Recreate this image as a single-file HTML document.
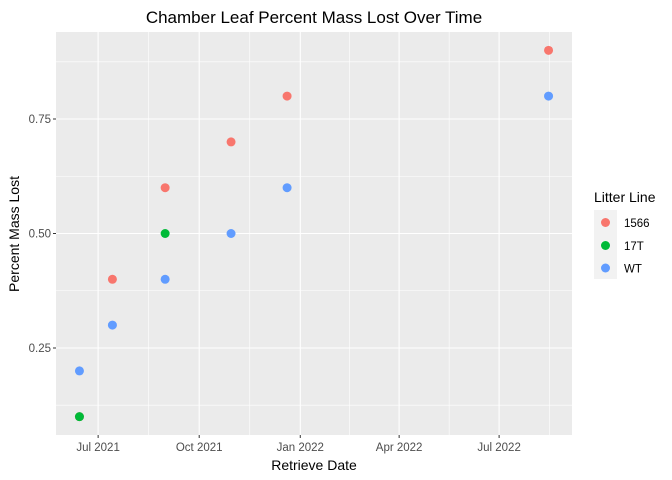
<!DOCTYPE html>
<html><head><meta charset="utf-8"><style>body{margin:0;background:#fff}svg{display:block;font-family:"Liberation Sans",Arial,sans-serif}</style></head>
<body>
<svg id="chart" width="672" height="480">
<text x="314" y="23" text-anchor="middle" font-size="17" fill="#000">Chamber Leaf Percent Mass Lost Over Time</text>
<rect x="56" y="32" width="516" height="403" fill="#ebebeb"/>
<g id="grid"></g><g id="axes"></g><g id="points"></g>
<text x="314" y="470" text-anchor="middle" font-size="14">Retrieve Date</text>
<text transform="translate(19,234) rotate(-90)" text-anchor="middle" font-size="14">Percent Mass Lost</text>
<g>
<text x="594" y="202" font-size="14">Litter Line</text>
<rect x="594" y="210" width="23" height="69" fill="#f2f2f2"/>
<g><circle cx="605.5" cy="222.5" r="4.5" fill="#F8766D"/><text x="624" y="227" font-size="11.5" fill="#000">1566</text></g>
<g><circle cx="605.5" cy="245.5" r="4.5" fill="#00BA38"/><text x="624" y="250" font-size="11.5" fill="#000">17T</text></g>
<g><circle cx="605.5" cy="268" r="4.5" fill="#619CFF"/><text x="624" y="272.5" font-size="11.5" fill="#000">WT</text></g>
</g>
</svg>
<script>
const series = ["1566","17T","WT"];
const dates1566 = ["2021-06-14","2021-07-14","2021-08-31","2021-10-30","2021-12-20","2022-08-15"];
const vals1566 = [0.1,0.4,0.6,0.7,0.8,0.9];
const dates17T = ["2021-06-14","2021-08-31"];
const vals17T = [0.1,0.5];
const datesWT = ["2021-06-14","2021-07-14","2021-08-31","2021-10-30","2021-12-20","2022-08-15"];
const valsWT = [0.2,0.3,0.4,0.5,0.6,0.8];
const xTickDates = ["2021-07-01","2021-10-01","2022-01-01","2022-04-01","2022-07-01"];
const xTickLabels = ["Jul 2021","Oct 2021","Jan 2022","Apr 2022","Jul 2022"];
const yTicks = [0.25,0.5,0.75];
const yTickLabels = ["0.25","0.50","0.75"];

const NS="http://www.w3.org/2000/svg";
const L=56,R=572,T=32,B=435;
const d=s=>Date.parse(s+"T00:00:00Z")/864e5;
const xmin=d("2021-06-14"),xmax=d("2022-08-15"),xp=(xmax-xmin)*0.05;
const x=v=>L+(d(v)-(xmin-xp))/((xmax+xp)-(xmin-xp))*(R-L);
const ymin=0.1,ymax=0.9,yp=0.04;
const y=v=>B-(v-(ymin-yp))/((ymax+yp)-(ymin-yp))*(B-T);
function mk(tag,attrs,parent){const e=document.createElementNS(NS,tag);for(const k in attrs)e.setAttribute(k,attrs[k]);parent.appendChild(e);return e;}
const grid=document.getElementById('grid'),axes=document.getElementById('axes'),pts=document.getElementById('points');
// minor grid
for(let i=0;i<yTicks.length+1;i++){const v=(i===0? yTicks[0]-0.125 : yTicks[i-1]+0.125);
 const ln=mk('line',{x1:L,x2:R,y1:y(v),y2:y(v),stroke:'#fff','stroke-width':0.6},grid);
 
 }
const xd=xTickDates.map(d);
const mids=[];
mids.push(xd[0]-(xd[1]-xd[0])/2);
for(let i=0;i<xd.length-1;i++)mids.push((xd[i]+xd[i+1])/2);
mids.push(xd[xd.length-1]+(xd[1]-xd[0])/2);
const xr=v=>L+(v-(xmin-xp))/((xmax+xp)-(xmin-xp))*(R-L);
mids.forEach(m=>{const px=xr(m);if(px<L||px>R)return;
 const ln=mk('line',{x1:px,x2:px,y1:T,y2:B,stroke:'#fff','stroke-width':0.6},grid);
 
 });
yTicks.forEach((v,i)=>{
 const ln=mk('line',{x1:L,x2:R,y1:y(v),y2:y(v),stroke:'#fff','stroke-width':1.1},grid);
 
 
 const tk=mk('line',{x1:L-3,x2:L,y1:y(v),y2:y(v),stroke:'#333','stroke-width':1},axes);
 
 
 const t=mk('text',{x:L-5,y:y(v)+4,'text-anchor':'end','font-size':'11.5',fill:'#4d4d4d'},axes);
 t.textContent=yTickLabels[i];
 
 });
xTickDates.forEach((s,i)=>{const px=x(s);
 const ln=mk('line',{x1:px,x2:px,y1:T,y2:B,stroke:'#fff','stroke-width':1.1},grid);
 
 
 const tk=mk('line',{x1:px,x2:px,y1:B,y2:B+3,stroke:'#333','stroke-width':1},axes);
 
 
 const t=mk('text',{x:px,y:B+16,'text-anchor':'middle','font-size':'11.5',fill:'#4d4d4d'},axes);
 t.textContent=xTickLabels[i];
 
 });
const groups=[["1566",dates1566,vals1566,"#F8766D"],["WT",datesWT,valsWT,"#619CFF"],["17T",dates17T,vals17T,"#00BA38"]];
groups.forEach(([nm,ds,vs,c])=>{ds.forEach((s,i)=>{
 const p=mk('circle',{cx:x(s),cy:y(vs[i]),r:4.5,fill:c},pts);
 
 });});
</script>
</body></html>
